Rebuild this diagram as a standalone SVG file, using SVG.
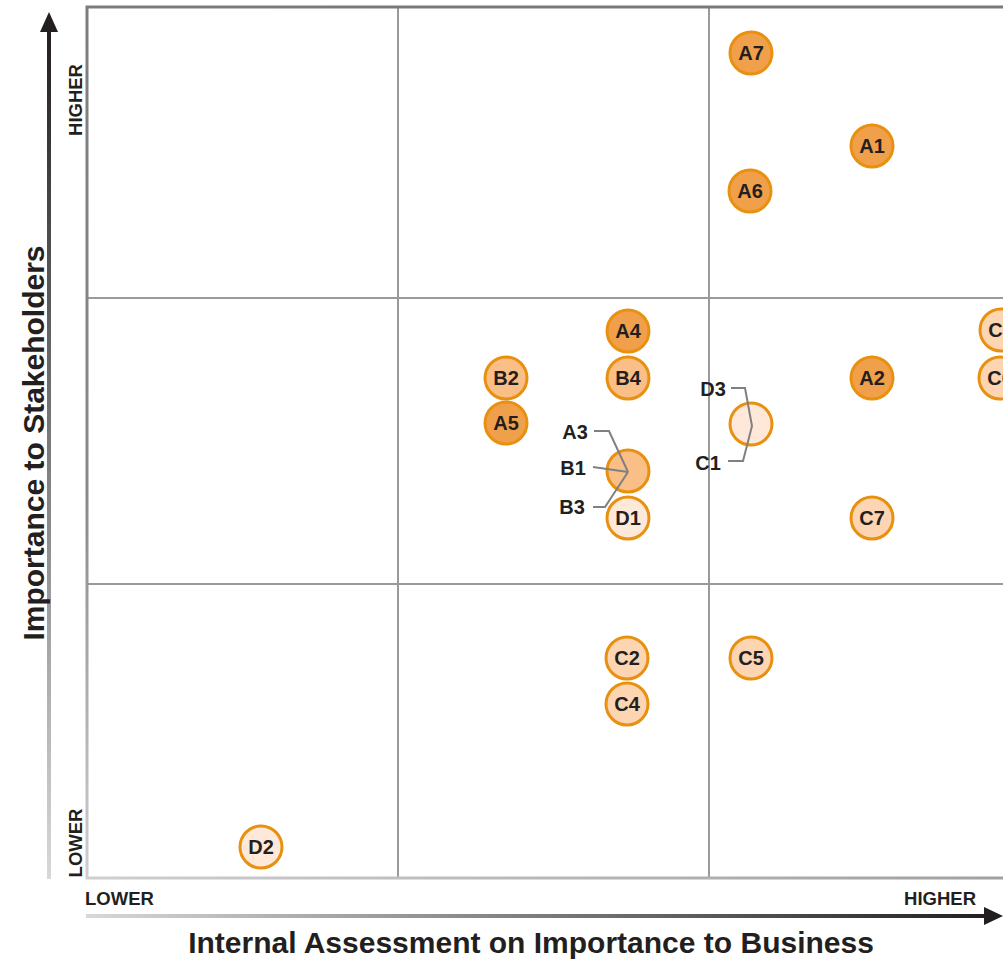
<svg xmlns="http://www.w3.org/2000/svg" width="1003" height="961" viewBox="0 0 1003 961">
<style>
.lbl{font-family:"Liberation Sans",Arial,sans-serif;font-weight:bold;font-size:20px;fill:#231f20;text-anchor:middle;dominant-baseline:central}
.tick{font-family:"Liberation Sans",Arial,sans-serif;font-weight:bold;font-size:18.5px;fill:#231f20}
.title{font-family:"Liberation Sans",Arial,sans-serif;font-weight:bold;font-size:30px;fill:#231f20;text-anchor:middle}
.grid{stroke:#9a9a9c;stroke-width:2;fill:none}
.n{stroke:#e8900f;stroke-width:3}
.a{fill:#f0a04b}
.b{fill:#f9bf86}
.c{fill:#fdd5b2}
.d{fill:#fde8da}
.lead{stroke:#808080;stroke-width:2;fill:none}
</style>
<defs>
<linearGradient id="gv" x1="0" y1="1" x2="0" y2="0">
<stop offset="0" stop-color="#d8d8da"/>
<stop offset="1" stop-color="#231f20"/>
</linearGradient>
<linearGradient id="gh" x1="0" y1="0" x2="1" y2="0">
<stop offset="0" stop-color="#d8d8da"/>
<stop offset="1" stop-color="#231f20"/>
</linearGradient>
<linearGradient id="gf" x1="0" y1="1" x2="0.3" y2="0">
<stop offset="0" stop-color="#cfcfd1"/>
<stop offset="0.4" stop-color="#8a8a8c"/>
<stop offset="1" stop-color="#7a7a7c"/>
</linearGradient>
</defs>
<rect width="1003" height="961" fill="#ffffff"/>
<g id="frame">
<line class="grid" x1="398" y1="7" x2="398" y2="878"/>
<line class="grid" x1="709" y1="7" x2="709" y2="878"/>
<line class="grid" x1="86" y1="298" x2="1003" y2="298"/>
<line class="grid" x1="86" y1="584" x2="1003" y2="584"/>
<rect x="87" y="7" width="930" height="871" fill="none" stroke="url(#gf)" stroke-width="3"/>
</g>
<g id="axes">
<rect x="47" y="30" width="4" height="849" fill="url(#gv)"/>
<polygon points="49,12 40,32 58,32" fill="#231f20"/>
<rect x="86" y="914" width="901" height="4" fill="url(#gh)"/>
<polygon points="1003,916 984,907 984,925" fill="#231f20"/>
<text class="tick" transform="translate(82,100) rotate(-90)" text-anchor="middle">HIGHER</text>
<text class="tick" transform="translate(82,843) rotate(-90)" text-anchor="middle">LOWER</text>
<text class="tick" x="85" y="905">LOWER</text>
<text class="tick" x="976" y="905" text-anchor="end">HIGHER</text>
<text class="title" transform="translate(33,443) rotate(-90)" dy="11">Importance to Stakeholders</text>
<text class="title" x="531" y="953">Internal Assessment on Importance to Business</text>
</g>
<g id="A7"><circle class="n a" cx="751" cy="53" r="21"/><text class="lbl" x="751" y="53">A7</text></g>
<g id="A1"><circle class="n a" cx="872" cy="146" r="21"/><text class="lbl" x="872" y="146">A1</text></g>
<g id="A6"><circle class="n a" cx="750" cy="191" r="21"/><text class="lbl" x="750" y="191">A6</text></g>
<g id="A4"><circle class="n a" cx="628" cy="331" r="21"/><text class="lbl" x="628" y="331">A4</text></g>
<g id="B4"><circle class="n b" cx="628" cy="378" r="21"/><text class="lbl" x="628" y="378">B4</text></g>
<g id="B2"><circle class="n b" cx="506" cy="378" r="21"/><text class="lbl" x="506" y="378">B2</text></g>
<g id="A5"><circle class="n a" cx="506" cy="423" r="21"/><text class="lbl" x="506" y="423">A5</text></g>
<g id="A2"><circle class="n a" cx="872" cy="378" r="21"/><text class="lbl" x="872" y="378">A2</text></g>
<g id="C3"><circle class="n c" cx="1001" cy="330" r="21"/><text class="lbl" x="1001" y="330">C3</text></g>
<g id="C6"><circle class="n c" cx="1000" cy="378" r="21"/><text class="lbl" x="1000" y="378">C6</text></g>
<g id="A3-B1-B3"><circle class="n b" cx="628" cy="471" r="21"/>
<text class="lbl" x="575" y="432">A3</text><text class="lbl" x="573" y="468">B1</text><text class="lbl" x="572" y="507">B3</text></g>
<g id="D1"><circle class="n d" cx="628" cy="518" r="21"/><text class="lbl" x="628" y="518">D1</text></g>
<g id="D3-C1"><circle class="n d" cx="751" cy="424" r="21"/>
<text class="lbl" x="713" y="389">D3</text><text class="lbl" x="708" y="463">C1</text></g>
<g id="C7"><circle class="n c" cx="872" cy="518" r="21"/><text class="lbl" x="872" y="518">C7</text></g>
<g id="C2"><circle class="n c" cx="627" cy="658" r="21"/><text class="lbl" x="627" y="658">C2</text></g>
<g id="C4"><circle class="n c" cx="627" cy="704" r="21"/><text class="lbl" x="627" y="704">C4</text></g>
<g id="C5"><circle class="n c" cx="751" cy="658" r="21"/><text class="lbl" x="751" y="658">C5</text></g>
<g id="D2"><circle class="n d" cx="261" cy="847" r="21"/><text class="lbl" x="261" y="847">D2</text></g>
<g id="connectors">
<polyline class="lead" points="594,431 609,431 628,472"/>
<polyline class="lead" points="593,467 628,472"/>
<polyline class="lead" points="593,507 605,507 628,472"/>
<polyline class="lead" points="731,388 745,388 752,426 743,461 728,461"/>
</g>
</svg>
